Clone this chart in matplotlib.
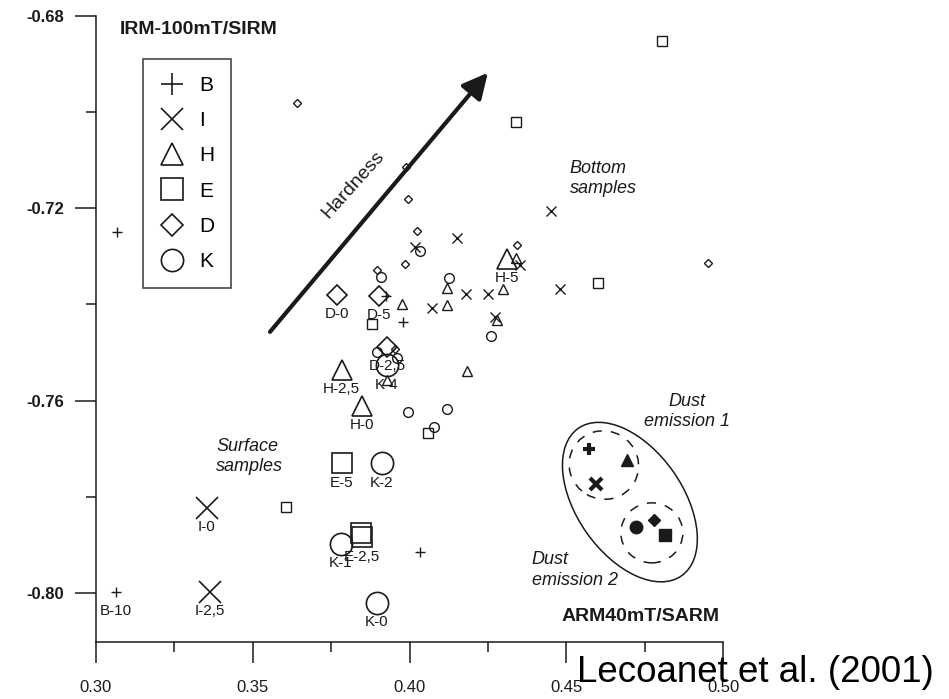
import matplotlib
matplotlib.use('Agg')
import matplotlib.pyplot as plt
from matplotlib.lines import Line2D
from matplotlib.patches import Ellipse
from matplotlib.transforms import ScaledTranslation

plt.rcParams['font.family'] = ['Liberation Sans', 'DejaVu Sans']

# sample types -> marker
types = ['B', 'I', 'H', 'E', 'D', 'K']
markers = {'B': '+', 'I': 'x', 'H': '^', 'E': 's', 'D': 'D', 'K': 'o'}

# small open markers (unlabelled samples)
b_x = [0.3067, 0.3979, 0.3925, 0.4033]
b_y = [-0.7249, -0.7436, -0.7382, -0.7915]
i_x = [0.4151, 0.4017, 0.4352, 0.4180, 0.4250, 0.4071, 0.4272, 0.4451, 0.4480]
i_y = [-0.7262, -0.7280, -0.7318, -0.7378, -0.7378, -0.7407, -0.7426, -0.7205, -0.7368]
h_x = [0.3976, 0.4119, 0.4119, 0.4298, 0.4339, 0.4279, 0.4183, 0.3928]
h_y = [-0.7399, -0.7366, -0.7401, -0.7368, -0.7303, -0.7432, -0.7538, -0.7557]
e_x = [0.4805, 0.4339, 0.4601, 0.3880, 0.4059, 0.3606]
e_y = [-0.6852, -0.7020, -0.7355, -0.7441, -0.7667, -0.7821]
d_x = [0.3641, 0.3989, 0.3995, 0.4024, 0.3985, 0.3896, 0.4342, 0.4952, 0.3953]
d_y = [-0.6981, -0.7114, -0.7181, -0.7247, -0.7316, -0.7328, -0.7276, -0.7314, -0.7493]
k_x = [0.4033, 0.3909, 0.4126, 0.4260, 0.3896, 0.3960, 0.3995, 0.4119, 0.4078]
k_y = [-0.7289, -0.7343, -0.7345, -0.7465, -0.7499, -0.7511, -0.7624, -0.7617, -0.7655]

small = {'B': (b_x, b_y), 'I': (i_x, i_y), 'H': (h_x, h_y),
         'E': (e_x, e_y), 'D': (d_x, d_y), 'K': (k_x, k_y)}
small_size = {'B': 7.5, 'I': 7.5, 'H': 6.5, 'E': 7, 'D': 4.5, 'K': 7}

# labelled surface samples
lab_names = ['D-0', 'D-5', 'D-2,5', 'H-2,5', 'K-4', 'H-0', 'H-5', 'E-5', 'K-2',
             'I-0', 'I-2,5', 'E-0', 'E-2,5', 'K-1', 'K-0', 'B-10']
lab_types = ['D', 'D', 'D', 'H', 'K', 'H', 'H', 'E', 'K',
             'I', 'I', 'E', 'E', 'K', 'K', 'B']
lab_x = [0.3768, 0.3902, 0.3928, 0.3784, 0.3928, 0.3848, 0.4311, 0.3784, 0.3912,
         0.3354, 0.3364, 0.3845, 0.3848, 0.3781, 0.3896, 0.3064]
lab_y = [-0.7380, -0.7382, -0.7488, -0.7536, -0.7526, -0.7611, -0.7305, -0.7730, -0.7730,
         -0.7823, -0.7998, -0.7875, -0.7884, -0.7898, -0.8021, -0.7998]
lab_show = [True, True, True, True, True, True, True, True, True,
            True, True, False, True, True, True, True]
big_size = {'B': 7.5, 'I': 16, 'H': 14, 'E': 15, 'D': 10.5, 'K': 16}

# dust emission samples
dust_types = ['B', 'H', 'I', 'K', 'D', 'E']
dust_x = [0.4572, 0.4693, 0.4594, 0.4722, 0.4779, 0.4814]
dust_y = [-0.7700, -0.7723, -0.7773, -0.7863, -0.7848, -0.7879]
dust_size = {'B': 9, 'I': 8, 'H': 9, 'K': 9, 'D': 6.5, 'E': 8.5}

ink = '#1a1a1a'

fig = plt.figure(figsize=(9.49, 6.99), dpi=100)
ax = fig.add_axes([96 / 949, 57 / 699, 627 / 949, 626 / 699])

for t in types:
    xs, ys = small[t]
    ax.plot(xs, ys, linestyle='none', marker=markers[t], ms=small_size[t],
            mfc='none', mec=ink, mew=1.0, clip_on=False)

for name, t, x, y, show in zip(lab_names, lab_types, lab_x, lab_y, lab_show):
    ax.plot([x], [y], linestyle='none', marker=markers[t], ms=big_size[t],
            mfc='none', mec=ink, mew=1.2 if t != 'B' else 1.0, clip_on=False)
    if show:
        ax.annotate(name, (x, y), xytext=(0, -14), textcoords='offset points',
                    ha='center', va='center', fontsize=11, color=ink)

for t, x, y in zip(dust_types, dust_x, dust_y):
    ax.plot([x], [y], linestyle='none', marker=markers[t], ms=dust_size[t],
            mfc=ink, mec=ink, mew=3 if t in ('B', 'I') else 1, clip_on=False)

# ellipses around dust emission samples (sizes in inches)
def add_ellipse(cx, cy, w, h, angle, ls):
    tr = fig.dpi_scale_trans + ScaledTranslation(cx, cy, ax.transData)
    ax.add_patch(Ellipse((0, 0), w, h, angle=angle, transform=tr, fill=False,
                         ec=ink, lw=1.1, ls=ls, clip_on=False))

add_ellipse(0.4703, -0.7811, 1.80, 1.06, -55, '-')
add_ellipse(0.4620, -0.7734, 0.70, 0.68, -30, (0, (6, 6)))
add_ellipse(0.4773, -0.7875, 0.62, 0.60, 0, (0, (6, 6)))

# hardness arrow
ax.annotate('', xy=(0.4250, -0.6918), xytext=(0.3555, -0.7457),
            arrowprops=dict(arrowstyle='-|>,head_length=0.7,head_width=0.35',
                            lw=3, color=ink, mutation_scale=22,
                            shrinkA=0, shrinkB=0))
ax.text(0.3822, -0.7150, 'Hardness', rotation=48, rotation_mode='anchor',
        ha='center', va='center', fontsize=14, color=ink)

ax.text(0.3077, -0.6829, 'IRM-100mT/SIRM', ha='left', va='center',
        fontsize=14, fontweight='bold', color=ink)
ax.text(0.4990, -0.8050, 'ARM40mT/SARM', ha='right', va='center',
        fontsize=14, fontweight='bold', color=ink)

ax.text(0.4511, -0.7138, 'Bottom\nsamples', ha='left', va='center',
        fontsize=13, style='italic', linespacing=1.25, color=ink)
ax.text(0.3383, -0.7716, 'Surface\nsamples', ha='left', va='center',
        fontsize=13, style='italic', linespacing=1.25, color=ink)
ax.text(0.4885, -0.7622, 'Dust\nemission 1', ha='center', va='center',
        fontsize=13, style='italic', linespacing=1.25, color=ink)
ax.text(0.4390, -0.7952, 'Dust\nemission 2', ha='left', va='center',
        fontsize=13, style='italic', linespacing=1.25, color=ink)

# legend box
handles = [Line2D([], [], linestyle='none', marker=markers[t],
                  ms=11 if t == 'D' else 16, mfc='none', mec=ink, mew=1.2)
           for t in types]
leg = ax.legend(handles, types, loc='upper left', bbox_to_anchor=(0.075, 0.931),
                borderaxespad=0, frameon=True, fancybox=False, fontsize=15,
                handlelength=1.2, handletextpad=0.7, labelspacing=0.78,
                borderpad=0.8)
leg.get_frame().set_edgecolor(ink)
leg.get_frame().set_linewidth(1.2)

ax.set_xlim(0.30, 0.50)
ax.set_ylim(-0.8102, -0.68)
ax.set_xticks([0.30, 0.35, 0.40, 0.45, 0.50])
ax.set_xticks([0.325, 0.375, 0.425, 0.475], minor=True)
ax.set_yticks([-0.80, -0.76, -0.72, -0.68])
ax.set_yticks([-0.78, -0.74, -0.70], minor=True)
ax.set_xticklabels(['0.30', '0.35', '0.40', '0.45', '0.50'])
ax.set_yticklabels(['-0.80', '-0.76', '-0.72', '-0.68'], fontweight='bold')

ax.spines['top'].set_visible(False)
ax.spines['right'].set_visible(False)
for s in ('left', 'bottom'):
    ax.spines[s].set_linewidth(1.1)
    ax.spines[s].set_color(ink)
ax.tick_params(axis='x', which='major', direction='out', length=15, width=1.1,
               pad=12, labelsize=12, colors=ink)
ax.tick_params(axis='x', which='minor', direction='out', length=7, width=1.1, colors=ink)
ax.tick_params(axis='y', which='major', direction='out', length=15, width=1.1,
               pad=8, labelsize=12, colors=ink)
ax.tick_params(axis='y', which='minor', direction='out', length=7, width=1.1, colors=ink)

fig.text(577 / 949, 17 / 699, 'Lecoanet et al. (2001)', ha='left', va='baseline',
         fontsize=26.5, color='black')

fig.savefig('out.png', dpi=100)
